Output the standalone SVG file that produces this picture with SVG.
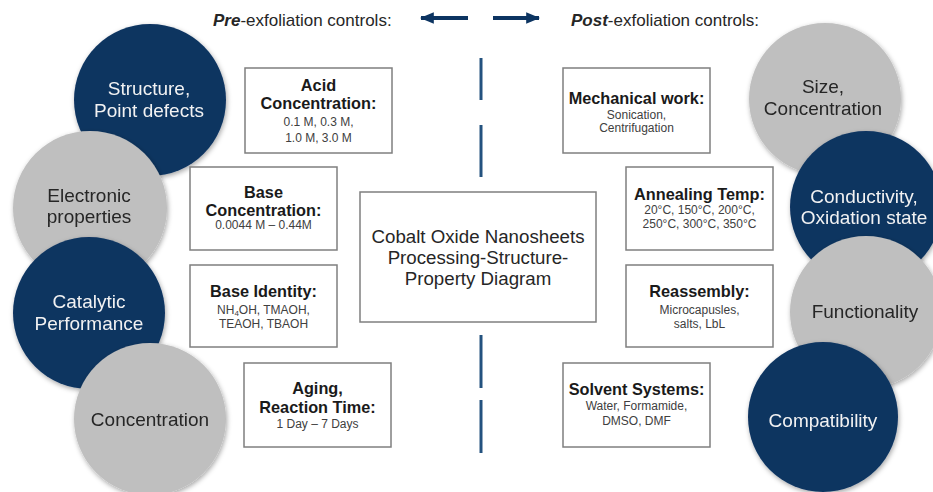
<svg xmlns="http://www.w3.org/2000/svg" width="933" height="492" viewBox="0 0 933 492">
<style>
.dark{fill:#0c3461}
.gray{fill:#bfbfbf}
.ct{font-family:"Liberation Sans",Arial,sans-serif;font-size:19px;text-anchor:middle}
.cw{fill:#f2f2f2}
.cg{fill:#262626}
.box{fill:#ffffff;stroke:#7f7f7f;stroke-width:1.5}
.bt{font-family:"Liberation Sans",Arial,sans-serif;font-size:16.3px;font-weight:bold;fill:#1a1a1a;text-anchor:middle}
.bd{font-family:"Liberation Sans",Arial,sans-serif;font-size:12px;fill:#404040;text-anchor:middle}
.hd{font-family:"Liberation Sans",Arial,sans-serif;font-size:17px;fill:#262626}
.mt{font-family:"Liberation Sans",Arial,sans-serif;font-size:18.7px;fill:#262626;text-anchor:middle}
.vl{stroke:#24527f;stroke-width:3}
.ar{stroke:#0c3461;stroke-width:4;fill:none}
</style>
<defs>
<filter id="sh" x="-20%" y="-20%" width="140%" height="140%">
<feDropShadow dx="1" dy="2" stdDeviation="2.5" flood-color="#000000" flood-opacity="0.35"/>
</filter>
<marker id="ah" viewBox="0 0 12 10" refX="11" refY="5" markerWidth="3.5" markerHeight="3" orient="auto" markerUnits="strokeWidth">
<path d="M0,0 L12,5 L0,10 Z" fill="#0c3461"/>
</marker>
</defs>
<rect width="933" height="492" fill="#ffffff"/>

<g id="header">
<text class="hd" x="213" y="26"><tspan font-weight="bold" font-style="italic">Pre</tspan>-exfoliation controls:</text>
<text class="hd" x="571" y="26"><tspan font-weight="bold" font-style="italic">Post</tspan>-exfoliation controls:</text>
</g>

<g id="connectors">
<line class="ar" x1="468" y1="18" x2="421" y2="18" marker-end="url(#ah)"/>
<line class="ar" x1="493" y1="18" x2="539" y2="18" marker-end="url(#ah)"/>
<line class="vl" x1="481" y1="58" x2="481" y2="100"/>
<line class="vl" x1="481" y1="125" x2="481" y2="177"/>
<line class="vl" x1="481" y1="335" x2="481" y2="388"/>
<line class="vl" x1="481" y1="400" x2="481" y2="453"/>
</g>

<g id="circle-structure" filter="url(#sh)">
<circle class="dark" cx="150" cy="100" r="76"/>
<text class="ct cw" x="149" y="95">Structure,</text>
<text class="ct cw" x="149" y="117">Point defects</text>
</g>
<g id="circle-electronic" filter="url(#sh)">
<circle class="gray" cx="90" cy="208" r="77"/>
<text class="ct cg" x="89" y="202">Electronic</text>
<text class="ct cg" x="89" y="223">properties</text>
</g>
<g id="circle-catalytic" filter="url(#sh)">
<circle class="dark" cx="89" cy="313" r="76"/>
<text class="ct cw" x="89" y="308">Catalytic</text>
<text class="ct cw" x="89" y="330">Performance</text>
</g>
<g id="circle-concentration" filter="url(#sh)">
<circle class="gray" cx="150" cy="419" r="76"/>
<text class="ct cg" x="150" y="426">Concentration</text>
</g>

<g id="circle-size" filter="url(#sh)">
<circle class="gray" cx="825" cy="99" r="76"/>
<text class="ct cg" x="823" y="93">Size,</text>
<text class="ct cg" x="823" y="115">Concentration</text>
</g>
<g id="circle-conductivity" filter="url(#sh)">
<circle class="dark" cx="866" cy="207" r="76"/>
<text class="ct cw" x="864" y="203">Conductivity,</text>
<text class="ct cw" x="864" y="224">Oxidation state</text>
</g>
<g id="circle-functionality" filter="url(#sh)">
<circle class="gray" cx="866" cy="312" r="76"/>
<text class="ct cg" x="865" y="318">Functionality</text>
</g>
<g id="circle-compatibility" filter="url(#sh)">
<circle class="dark" cx="823" cy="417" r="75"/>
<text class="ct cw" x="823" y="427">Compatibility</text>
</g>

<g id="box-acid">
<rect class="box" x="245" y="68" width="147" height="85"/>
<text class="bt" x="318.5" y="91">Acid</text>
<text class="bt" x="318.5" y="109">Concentration:</text>
<text class="bd" x="318.5" y="126">0.1 M, 0.3 M,</text>
<text class="bd" x="318.5" y="142">1.0 M, 3.0 M</text>
</g>
<g id="box-base-conc">
<rect class="box" x="190" y="167" width="147" height="83"/>
<text class="bt" x="263.5" y="198">Base</text>
<text class="bt" x="263.5" y="216">Concentration:</text>
<text class="bd" x="263.5" y="229">0.0044 M – 0.44M</text>
</g>
<g id="box-base-identity">
<rect class="box" x="190" y="265" width="147" height="82"/>
<text class="bt" x="263.5" y="297">Base Identity:</text>
<text class="bd" x="263.5" y="314">NH<tspan font-size="8" dy="2">4</tspan><tspan dy="-2">OH, TMAOH,</tspan></text>
<text class="bd" x="263.5" y="328">TEAOH, TBAOH</text>
</g>
<g id="box-aging">
<rect class="box" x="244" y="363" width="147" height="84"/>
<text class="bt" x="317.5" y="394">Aging,</text>
<text class="bt" x="317.5" y="413">Reaction Time:</text>
<text class="bd" x="317.5" y="428">1 Day – 7 Days</text>
</g>

<g id="box-center">
<rect class="box" x="360" y="192" width="236" height="130"/>
<text class="mt" x="478" y="243">Cobalt Oxide Nanosheets</text>
<text class="mt" x="478" y="264">Processing-Structure-</text>
<text class="mt" x="478" y="285">Property Diagram</text>
</g>

<g id="box-mechanical">
<rect class="box" x="563" y="68" width="147" height="85"/>
<text class="bt" x="636.5" y="104">Mechanical work:</text>
<text class="bd" x="636.5" y="119">Sonication,</text>
<text class="bd" x="636.5" y="132">Centrifugation</text>
</g>
<g id="box-annealing">
<rect class="box" x="626" y="167" width="147" height="83"/>
<text class="bt" x="699.5" y="200">Annealing Temp:</text>
<text class="bd" x="699.5" y="214">20°C, 150°C, 200°C,</text>
<text class="bd" x="699.5" y="228">250°C, 300°C, 350°C</text>
</g>
<g id="box-reassembly">
<rect class="box" x="626" y="265" width="147" height="82"/>
<text class="bt" x="699.5" y="297">Reassembly:</text>
<text class="bd" x="699.5" y="314">Microcapusles,</text>
<text class="bd" x="699.5" y="328">salts, LbL</text>
</g>
<g id="box-solvent">
<rect class="box" x="563" y="363" width="147" height="84"/>
<text class="bt" x="636.5" y="395">Solvent Systems:</text>
<text class="bd" x="636.5" y="410">Water, Formamide,</text>
<text class="bd" x="636.5" y="425">DMSO, DMF</text>
</g>
</svg>
